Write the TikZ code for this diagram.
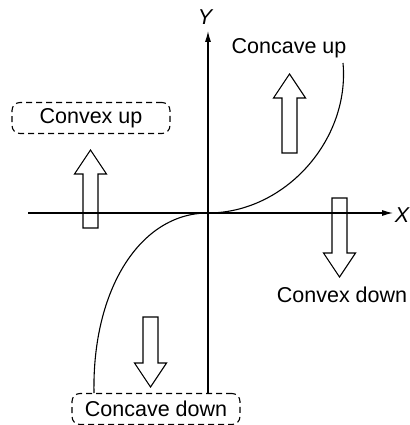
\documentclass[tikz,border=0pt]{standalone}
\usepackage{fontspec}
\setmainfont{Liberation Sans}
\usetikzlibrary{arrows.meta}
\begin{document}
\begin{tikzpicture}[x=1pt,y=-1pt,
  axis/.style={line width=1.1pt,-{Latex[length=11pt,width=6pt]}},
  curve/.style={line width=1.1pt},
  blk/.style={line width=1.1pt,line join=miter},
  lbl/.style={font=\fontsize{21.5}{25}\selectfont,inner sep=0pt},
  dbox/.style={lbl,draw,dashed,dash pattern=on 6pt off 4pt,rounded corners=8pt,line width=1.1pt},
  axlbl/.style={font=\fontsize{21.5}{25}\selectfont\itshape,inner sep=0pt}]
\useasboundingbox (0,0) rectangle (409,425);
\coordinate (O) at (208,213);
\coordinate (xl) at (28,213);
\coordinate (xr) at (393,213);
\coordinate (yb) at (208,393);
\coordinate (yt) at (208,31);
% axes
\draw[axis] (xl) -- (xr);
\draw[axis] (yb) -- (yt);
\node[axlbl] (X) at (402,215) {X};
\node[axlbl] (Y) at (205,17) {Y};
% curve
\coordinate (cu) at (343,63);
\coordinate (cd) at (94,393);
\draw[curve] (O) .. controls (285,213) and (350,140) .. (cu);
\draw[curve] (O) .. controls (140,213) and (92,290) .. (cd);
% labels
\node[dbox,minimum width=158pt,minimum height=31pt] (cvu) at (91,118) {Convex up};
\node[lbl] (ccu) at (289,48) {Concave up};
\node[lbl] (cvd) at (342,295) {Convex down};
\node[dbox,minimum width=168pt,minimum height=31pt] (ccd) at (156,409) {Concave down};
% block arrows
\draw[blk] (90.5,150) -- (106.5,174) -- (98,174) -- (98,228) -- (83,228) -- (83,174) -- (74.5,174) -- cycle;
\draw[blk] (289.5,74) -- (305.5,98) -- (297,98) -- (297,153) -- (282,153) -- (282,98) -- (273.5,98) -- cycle;
\draw[blk] (150.5,387) -- (166.5,363) -- (158,363) -- (158,317) -- (143,317) -- (143,363) -- (134.5,363) -- cycle;
\draw[blk] (339.5,277) -- (355.5,253) -- (347,253) -- (347,198) -- (332,198) -- (332,253) -- (323.5,253) -- cycle;
\end{tikzpicture}
\end{document}
